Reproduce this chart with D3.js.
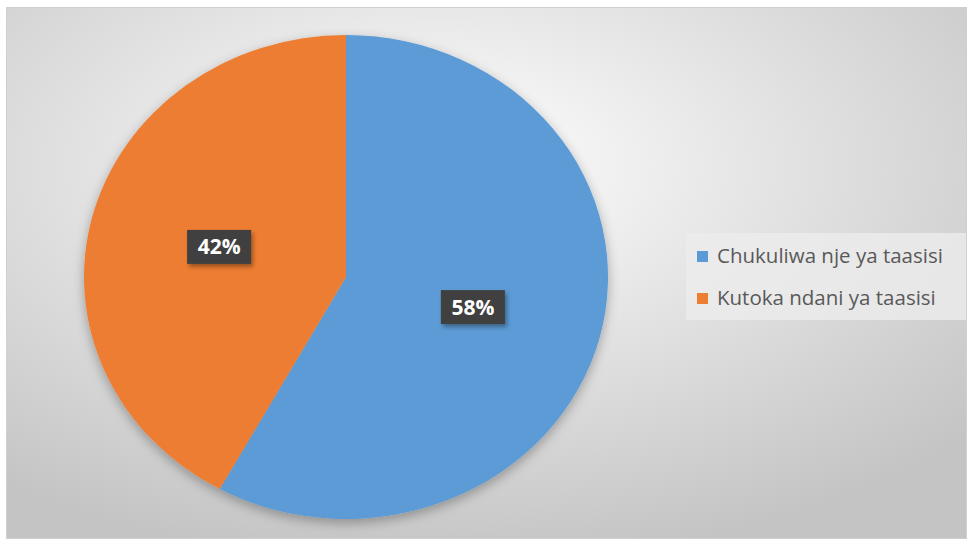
<!DOCTYPE html>
<html>
<head>
<meta charset="utf-8">
<script src="https://cdn.jsdelivr.net/npm/d3@7"></script>
<style>
  body { margin: 0; background: #fff; }
  svg { display: block; }
</style>
</head>
<body>
<div id="chart"></div>
<script>
const categories = ['Chukuliwa nje ya taasisi', 'Kutoka ndani ya taasisi'];
const values = [58, 42];
const colors = ['#5B9BD5', '#ED7D31'];

const W = 968, H = 542;
const svg = d3.select('#chart').append('svg').attr('width', W).attr('height', H);
const defs = svg.append('defs');

// Background gradient
const bg = defs.append('radialGradient').attr('id', 'bg')
  .attr('cx', '0.45').attr('cy', '0.3').attr('r', '0.75');
bg.append('stop').attr('offset', '0%').attr('stop-color', '#ffffff');
bg.append('stop').attr('offset', '100%').attr('stop-color', '#c4c4c4');

const shadow = defs.append('filter').attr('id', 'shadow')
  .attr('x', '-20%').attr('y', '-20%').attr('width', '140%').attr('height', '140%');
shadow.append('feDropShadow').attr('dx', 0).attr('dy', 4).attr('stdDeviation', 6)
  .attr('flood-color', '#000').attr('flood-opacity', 0.3);

const lblShadow = defs.append('filter').attr('id', 'lshadow')
  .attr('x', '-30%').attr('y', '-30%').attr('width', '160%').attr('height', '160%');
lblShadow.append('feDropShadow').attr('dx', 2).attr('dy', 3).attr('stdDeviation', 2)
  .attr('flood-color', '#000').attr('flood-opacity', 0.35);

// Chart area
svg.append('rect').attr('x', 6.5).attr('y', 7.5).attr('width', 960).attr('height', 531)
  .attr('fill', 'url(#bg)').attr('stroke', '#d0d0d0');

// Pie
const cx = 346, cy = 277, ry = 242, rx = 262;
const pieG = svg.append('g').attr('filter', 'url(#shadow)');
const g = pieG.append('g')
  .attr('transform', `translate(${cx},${cy}) scale(${rx / ry},1)`);

const pie = d3.pie().sort(null).value(d => d)(values);
const arc = d3.arc().innerRadius(0).outerRadius(ry);
g.selectAll('path').data(pie).enter().append('path')
  .attr('d', arc)
  .attr('fill', (d, i) => colors[i]);

// Data labels
const labelArc = d3.arc().innerRadius(ry * 0.5).outerRadius(ry * 0.5);
const lbl = svg.append('g').selectAll('g').data(pie).enter().append('g')
  .attr('transform', d => {
    const c = labelArc.centroid(d);
    return `translate(${cx + c[0] * rx / ry},${cy + c[1]})`;
  });
lbl.append('rect')
  .attr('x', -32).attr('y', -17).attr('width', 64).attr('height', 34)
  .attr('fill', '#404040').attr('filter', 'url(#lshadow)');
lbl.append('text')
  .attr('text-anchor', 'middle').attr('dy', '0.36em')
  .attr('fill', '#fff').attr('font-family', 'Open Sans, sans-serif')
  .attr('font-weight', 'bold').attr('font-size', 21)
  .text(d => d.data + '%');

// Legend
const leg = svg.append('g');
leg.append('rect').attr('x', 686).attr('y', 233).attr('width', 280).attr('height', 87)
  .attr('fill', '#ececec').attr('opacity', 0.8);
const items = leg.selectAll('g.item').data(categories).enter().append('g')
  .attr('class', 'item')
  .attr('transform', (d, i) => `translate(697,${256 + i * 42})`);
items.append('rect').attr('x', 0).attr('y', -5).attr('width', 11).attr('height', 11)
  .attr('fill', (d, i) => colors[i]);
items.append('text').attr('x', 20).attr('dy', '0.35em')
  .attr('font-family', 'Open Sans, sans-serif').attr('font-size', 20.5)
  .attr('fill', '#595959')
  .text(d => d);
</script>
</body>
</html>
